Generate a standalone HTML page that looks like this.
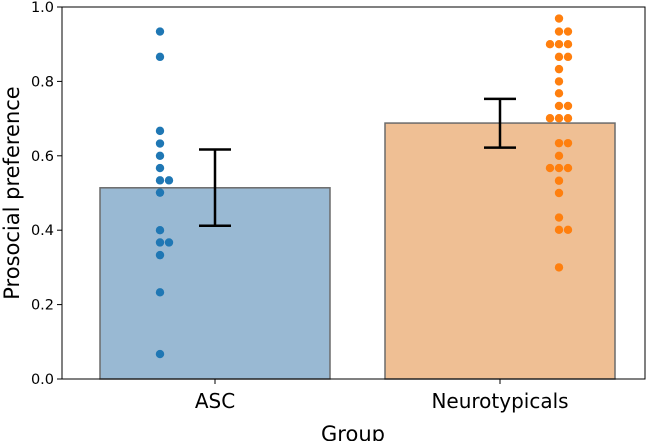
<!DOCTYPE html>
<html><head><meta charset="utf-8"><style>
html,body{margin:0;padding:0;background:#fff;}
svg{display:block;font-family:"DejaVu Sans","Liberation Sans",sans-serif;}
</style></head><body>
<svg id="chart" width="646" height="441" viewBox="0 0 646 441"></svg>
<script>
const categories = ["ASC", "Neurotypicals"];
const means = [0.514, 0.688];
const errLow = [0.412, 0.622];
const errHigh = [0.617, 0.753];
const ascValues = [0.934,0.866,0.667,0.633,0.600,0.567,0.534,0.534,0.501,0.400,0.367,0.367,0.333,0.233,0.067];
const ntValues = [0.969,0.934,0.934,0.900,0.900,0.900,0.866,0.866,0.833,0.800,0.768,0.734,0.734,0.701,0.701,0.701,0.634,0.634,0.600,0.567,0.567,0.567,0.533,0.500,0.434,0.401,0.401,0.300];
const yTicks = [0.0,0.2,0.4,0.6,0.8,1.0];
const yTickLabels = ["0.0","0.2","0.4","0.6","0.8","1.0"];

const NS="http://www.w3.org/2000/svg";
const svg=document.getElementById('chart');
const L=62,R=645,T=7,B=379;
const y=v=>B-(B-T)*v;
const xc=i=>215+285*i;
const bw=230;
function mk(t,a,p){const e=document.createElementNS(NS,t);for(const k in a)e.setAttribute(k,a[k]);(p||svg).appendChild(e);return e;}
const fills=["#99b9d3","#efbf94"];
const dots=["#1f77b4","#ff7f0e"];
categories.forEach((c,i)=>{
  const r=mk('rect',{x:xc(i)-bw/2,y:y(means[i]),width:bw,height:B-y(means[i]),fill:fills[i],stroke:"#6b6b6b","stroke-width":1.5});
  
  
});
function swarm(vals,cx,color,name){
  const placed=[];const d=8.5;
  const order=vals.map((v,i)=>i).sort((a,b)=>vals[b]-vals[a]);
  order.forEach(i=>{
    const py=y(vals[i]);
    let best=0;
    for(let k=0;k<80;k++){
      const off=(k%2?1:-1)*Math.ceil(k/2)*1;
      const ok=placed.every(p=>Math.hypot(p[0]-(cx+off),p[1]-py)>=d);
      if(ok){best=off;break;}
    }
    placed.push([cx+best,py]);
    const c=mk('circle',{cx:cx+best,cy:py,r:4.2,fill:color});
    
    
  });
}
swarm(ascValues,160,dots[0],'asc');
swarm(ntValues,559,dots[1],'neurotypical');
const ebx=[215,500];
categories.forEach((c,i)=>{
  const g=mk('g',{stroke:"#000","stroke-width":2.5});
  
  
  mk('line',{x1:ebx[i],x2:ebx[i],y1:y(errLow[i]),y2:y(errHigh[i])},g);
  mk('line',{x1:ebx[i]-16,x2:ebx[i]+16,y1:y(errLow[i]),y2:y(errLow[i])},g);
  mk('line',{x1:ebx[i]-16,x2:ebx[i]+16,y1:y(errHigh[i]),y2:y(errHigh[i])},g);
});
const f=mk('rect',{x:L,y:T,width:R-L,height:B-T,fill:"none",stroke:"#000","stroke-width":1});


yTicks.forEach((t,i)=>{
  mk('line',{x1:L-5,x2:L,y1:y(t),y2:y(t),stroke:"#000"});
  const tx=mk('text',{x:L-8,y:y(t)+5,"text-anchor":"end","font-size":14.5,fill:"#000"});
  tx.textContent=yTickLabels[i];
  
  
});
categories.forEach((c,i)=>{
  mk('line',{x1:xc(i),x2:xc(i),y1:B,y2:B+5,stroke:"#000"});
  const tx=mk('text',{x:xc(i),y:B+29,"text-anchor":"middle","font-size":20,fill:"#000"});
  tx.textContent=c;
  
  
});
const xl=mk('text',{x:353,y:441,"text-anchor":"middle","font-size":21,fill:"#000"});
xl.textContent="Group";


const yl=mk('text',{x:0,y:0,"text-anchor":"middle","font-size":21,fill:"#000",transform:"translate(19,193) rotate(-90)"});
yl.textContent="Prosocial preference";


</script>
</body></html>
